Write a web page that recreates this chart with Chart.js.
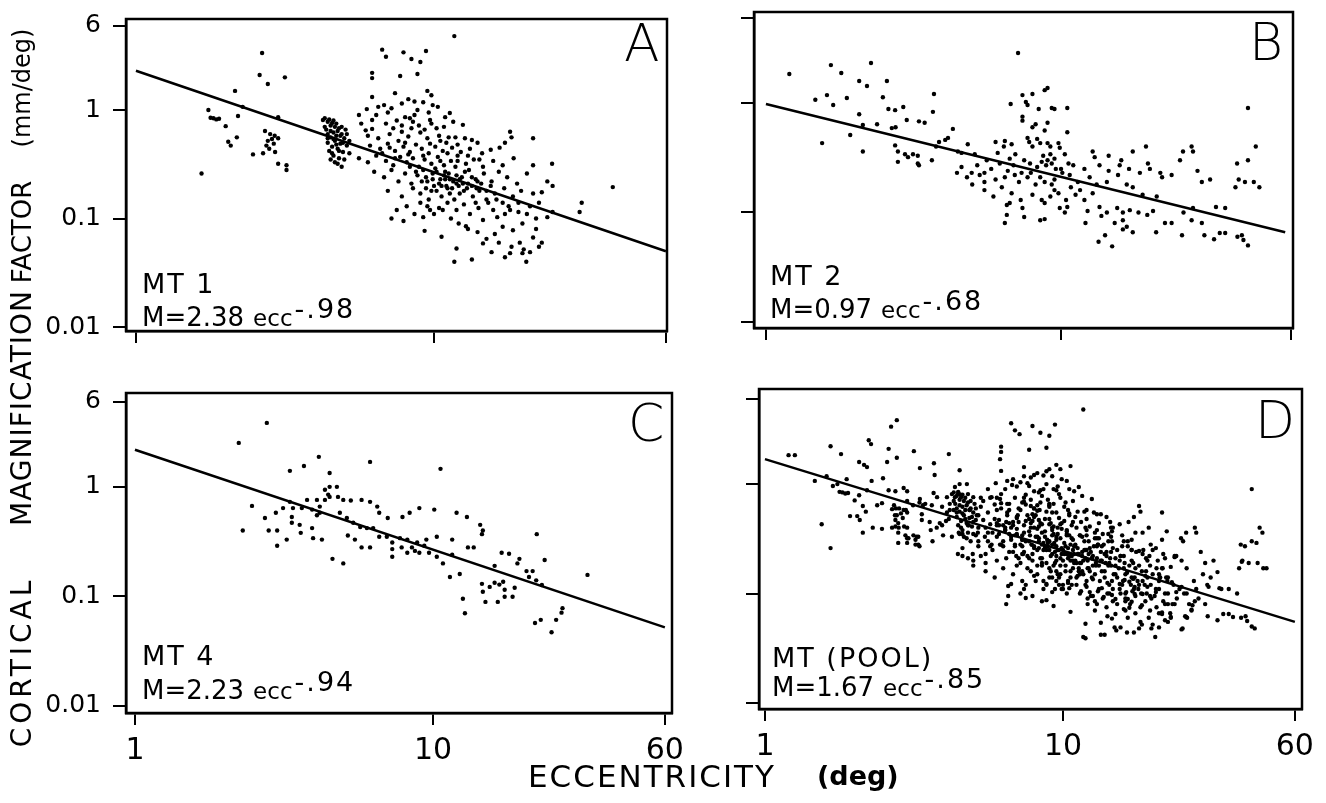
<!DOCTYPE html>
<html>
<head>
<meta charset="utf-8">
<script src="https://cdn.jsdelivr.net/npm/chart.js@4.4.0/dist/chart.umd.min.js"></script>
<style>
body { margin:0; background:#fff; width:1326px; height:803px; position:relative; overflow:hidden; font-family:'DejaVu Sans', sans-serif; color:#000; }
canvas { position:absolute; }
.lbl { position:absolute; line-height:1; white-space:nowrap; }
.letter { font-size:52px; font-weight:300; }
.mt { font-size:27px; letter-spacing:2px; }
.eq { font-size:26px; }
.ecc { font-size:23px; margin-left:9px; }
.sup { position:relative; top:-8px; margin-left:2px; font-size:27px; letter-spacing:2px; }
.xtitle { font-size:31px; letter-spacing:2px; }
.yword { position:absolute; left:22px; transform:translate(-50%,-50%) rotate(-90deg); line-height:1; white-space:nowrap; }
</style>
</head>
<body>
<canvas id="panelA"></canvas>
<canvas id="panelB"></canvas>
<canvas id="panelC"></canvas>
<canvas id="panelD"></canvas>

<div class="lbl letter" style="left:624px;top:17px">A</div>
<div class="lbl letter" style="left:1249px;top:16px">B</div>
<div class="lbl letter" style="left:628px;top:397px">C</div>
<div class="lbl letter" style="left:1255px;top:394px">D</div>

<div class="lbl mt" style="left:142px;top:270px">MT&nbsp;1</div>
<div class="lbl eq" style="left:142px;top:303px">M=2.38<span class="ecc">ecc</span><span class="sup">-.98</span></div>
<div class="lbl mt" style="left:770px;top:262px">MT&nbsp;2</div>
<div class="lbl eq" style="left:770px;top:295px">M=0.97<span class="ecc">ecc</span><span class="sup">-.68</span></div>
<div class="lbl mt" style="left:142px;top:642px">MT&nbsp;4</div>
<div class="lbl eq" style="left:142px;top:676px">M=2.23<span class="ecc">ecc</span><span class="sup">-.94</span></div>
<div class="lbl mt" style="left:772px;top:644px">MT&nbsp;(POOL)</div>
<div class="lbl eq" style="left:772px;top:673px">M=1.67<span class="ecc">ecc</span><span class="sup">-.85</span></div>

<div class="lbl xtitle" style="left:528px;top:761px">ECCENTRICITY</div>
<div class="lbl xtitle" style="left:817px;top:762px;font-weight:bold;letter-spacing:0;font-size:27px">(deg)</div>

<div class="yword" style="top:662px;font-size:28px;letter-spacing:4px">CORTICAL</div>
<div class="yword" style="top:408px;font-size:28px;letter-spacing:1px">MAGNIFICATION</div>
<div class="yword" style="top:232px;font-size:26px">FACTOR</div>
<div class="yword" style="top:88px;font-size:24px">(mm/deg)</div>

<script>
// axis ticks
const xTicks = [1, 10, 60];
const xTickLabels = ['1', '10', '60'];
const yTicks = [0.01, 0.1, 1, 6];
const yTickLabels = ['0.01', '0.1', '1', '6'];

// [eccentricity (deg), magnification (mm/deg)]

// MT 1 (panel A)
const mt1 = [
  [1.66,0.26],[2.65,3.35],[2.6,2.1],[3.16,2.0],[2.77,1.74],[2.15,1.5],[1.75,1.0],[1.78,0.85],
  [1.82,0.84],[1.86,0.82],[1.9,0.83],[2.2,0.88],[2.0,0.71],[2.18,0.56],[2.04,0.51],[2.08,0.47],
  [2.71,0.64],[2.82,0.6],[2.92,0.58],[2.86,0.54],[2.77,0.52],[3.0,0.55],[2.9,0.49],[2.74,0.47],
  [2.8,0.44],[2.47,0.39],[2.67,0.4],[2.93,0.41],[3.0,0.32],[3.2,0.31],[3.2,0.28],[3.0,0.86],
  [2.28,1.07],[4.24,0.81],
  [4.3,0.84],[4.4,0.78],[4.5,0.72],[4.35,0.66],[4.6,0.62],[4.5,0.56],[4.4,0.5],[4.7,0.75],
  [4.8,0.68],[4.65,0.52],[4.9,0.6],[4.55,0.46],[4.75,0.44],[5.0,0.55],[4.85,0.49],[4.45,0.42],
  [4.95,0.41],[5.1,0.47],[4.6,0.38],[4.8,0.36],[5.2,0.52],[4.7,0.58],[4.4,0.6],[5.05,0.66],
  [4.9,0.7],[4.6,0.8],[4.3,0.7],[5.2,0.4],[4.75,0.32],[5.0,0.35],[4.5,0.35],
  [4.45,0.82],[4.55,0.76],[4.65,0.7],[4.75,0.64],[4.85,0.58],[4.5,0.64],[4.6,0.54],[4.7,0.48],
  [4.8,0.42],[4.95,0.5],[4.4,0.55],[5.1,0.6],[4.55,0.4],[4.65,0.33],[4.9,0.3],
  [11.7,4.8],[6.7,3.6],[6.9,3.1],[7.9,3.4],[9.4,3.5],[8.4,2.95],[9.0,2.77],[6.2,2.2],
  [6.2,1.97],[7.7,2.06],[8.8,2.15],[7.4,1.43],[9.5,1.5],[9.8,1.37],[6.2,1.32],[8.2,1.26],
  [9.2,1.18],[6.5,1.07],[6.8,1.11],[5.95,1.02],[5.6,0.9],[7.2,1.04],[9.9,1.11],[10.3,1.07],
  [8.8,1.0],[8.6,0.9],[8.3,0.84],[8.0,0.86],[10.9,0.86],[11.3,0.94],[11.6,0.78],[12.5,0.73],
  [9.7,0.81],[10.2,0.68],[6.2,0.81],[5.9,0.65],[6.2,0.67],[7.3,0.68],[7.8,0.63],[8.4,0.68],
  [11.8,0.56],[11.2,0.56],[12.7,0.55],[13.4,0.53],[14,0.5],[18,0.63],[18.2,0.56],[17.3,0.5],
  [16.6,0.45],[21.5,0.55],[21.5,0.31],[24.9,0.32],[39.8,0.195],[24,0.22],[25,0.2],[21.5,0.17],
  [23,0.175],
  [6.1,0.47],[6.6,0.44],[7.0,0.49],[7.4,0.42],[7.9,0.46],[8.3,0.41],[8.7,0.48],[9.1,0.44],
  [9.6,0.4],[10.1,0.46],[10.7,0.42],[11.5,0.45],[12.3,0.41],[13.2,0.44],[14.5,0.4],[15.5,0.43],
  [5.6,0.36],[6.0,0.33],[6.4,0.38],[6.9,0.34],[7.3,0.31],[7.7,0.37],[8.1,0.33],[8.5,0.36],
  [8.9,0.3],[9.3,0.35],[9.8,0.32],[10.3,0.37],[10.8,0.31],[11.4,0.34],[12.0,0.38],[12.8,0.32],
  [13.6,0.35],[14.6,0.3],[15.8,0.34],[17.0,0.31],[18.5,0.36],
  [6.3,0.27],[6.8,0.24],[7.2,0.28],[7.6,0.22],[8.0,0.26],[8.4,0.21],[8.8,0.25],[9.2,0.28],
  [9.5,0.22],[9.9,0.26],[10.4,0.21],[10.9,0.27],[11.3,0.23],[11.9,0.25],[12.5,0.21],[13.1,0.28],
  [13.8,0.23],[14.7,0.26],[15.6,0.22],[16.5,0.27],[17.6,0.24],[19.0,0.21],[20.5,0.26],
  [7.0,0.18],[7.8,0.16],[8.5,0.19],[9.0,0.17],[9.6,0.15],[10.2,0.18],[10.6,0.16],[11.1,0.19],
  [11.7,0.15],[12.2,0.17],[12.9,0.19],[13.5,0.16],[14.2,0.18],[15.0,0.15],[16.0,0.17],[17.2,0.19],
  [18.4,0.16],[19.6,0.18],
  [8.1,0.13],[9.5,0.13],[9.7,0.12],[9.2,0.103],[11.1,0.14],[11.9,0.12],[13.2,0.11],[16.3,0.103],
  [10.4,0.125],[12.6,0.135],[14.1,0.125],[15.2,0.14],[17.8,0.13],[19.2,0.115],[7.5,0.12],[25,0.115],
  [24,0.103],[30.8,0.115],[31.3,0.14],[21,0.13],[22.5,0.14],
  [7.2,0.1],[7.9,0.095],[9.3,0.077],[10.6,0.068],[11.9,0.053],[11.7,0.04],[13.4,0.042],[15.6,0.049],
  [17.3,0.044],[18,0.048],[20.4,0.04],[19.8,0.048],[21,0.049],[14.6,0.059],[19.4,0.06],[21.5,0.067],
  [22,0.08],[14.6,0.097],[17,0.084],[18.4,0.078],[19.8,0.09],[12.8,0.085],[16,0.072],[23,0.06],
  [9.4,0.24],[10.0,0.2],[10.5,0.23],[11.0,0.2],[11.6,0.22],[12.1,0.2],[10.8,0.25],[9.8,0.18],
  [12.4,0.24],[11.3,0.17],[10.1,0.29],[11.8,0.3],[12.7,0.27],[13.4,0.2],[14.0,0.22],
  [6.5,0.55],[7.1,0.6],[7.6,0.52],[8.2,0.57],[9.0,0.62],[9.5,0.55],[10.4,0.58],[6.9,0.75],
  [7.5,0.8],[8.9,0.72],[9.3,0.66],[10.5,0.52],[6.0,0.58],[5.7,0.75],
  [8.3,0.3],[8.7,0.27],[9.1,0.22],[9.4,0.19],[9.9,0.23],[10.2,0.27],[10.6,0.2],[10.9,0.23],
  [11.2,0.26],[11.5,0.19],[11.9,0.21],[12.2,0.23],[12.6,0.18],[13.0,0.21],[13.4,0.24],[13.9,0.19],
  [14.4,0.21],[15.0,0.18],[15.5,0.2],[16.2,0.15],[17.0,0.14],[18.0,0.12],[19.2,0.14],[20.5,0.11],
  [22.0,0.1],[10.7,0.12],[11.4,0.1],[12.1,0.09],[13.0,0.08],[14.0,0.075],[15.0,0.065],[16.5,0.06],
  [18.2,0.055],[20.0,0.052],[22.5,0.055],[9.0,0.14],[10.0,0.11],[8.6,0.11],[13.8,0.14],[15.8,0.12],
  [17.3,0.11],[12.0,0.34],[13.0,0.38],[14.2,0.35],[7.4,0.36],[8.2,0.39],[9.2,0.38],[10.5,0.34],
  [11.1,0.4],[6.7,0.4],[7.1,0.45],[8.0,0.5],[9.7,0.49],[11.0,0.5],[12.0,0.48],[7.8,0.72],
  [8.5,0.78],[9.8,0.75],[10.8,0.7],[6.4,0.9],[7.0,0.95],[7.8,1.15],[8.6,1.2],[9.6,0.95]
];

// MT 2 (panel B)
const mt2 = [
  [1.2,1.84],[1.66,2.22],[1.8,1.88],[2.27,2.32],[2.07,1.59],[2.2,1.43],[2.57,1.59],[3.71,1.21],
  [1.47,1.07],[1.61,1.18],[1.69,0.96],[1.88,1.11],[2.49,1.13],[2.6,0.88],[2.74,0.86],[2.92,0.92],
  [3.68,0.83],[2.07,0.79],[3.0,0.7],[3.3,0.68],[3.45,0.66],[2.13,0.63],[2.38,0.64],[2.67,0.59],
  [2.75,0.6],[4.3,0.58],[1.55,0.43],[1.93,0.51],[2.13,0.36],[2.74,0.41],[2.8,0.36],[2.96,0.34],
  [3.03,0.32],[3.15,0.34],[3.27,0.33],[2.8,0.29],[3.3,0.27],[3.27,0.28],[3.65,0.3],[3.77,0.4],
  [3.86,0.44],[4.05,0.46],[4.14,0.48],[4.47,0.36],[4.6,0.35],[4.83,0.42],[5.1,0.34],[4.44,0.23],
  [4.6,0.26],[4.98,0.23],[5.3,0.22],[5.5,0.23],[5.5,0.16],
  [7.15,2.86],[7.4,1.18],[8.0,1.21],[8.8,1.31],[9.0,1.37],[6.75,0.98],[7.6,1.02],[7.7,0.96],
  [8.4,0.88],[9.3,0.9],[9.5,0.88],[10.5,0.9],[7.4,0.75],[7.4,0.69],[8.2,0.64],[8.0,0.6],
  [9.0,0.66],[8.8,0.56],[10.5,0.54],[6.0,0.44],[6.45,0.45],[6.4,0.4],[6.8,0.42],[7.7,0.48],
  [7.8,0.44],[8.3,0.47],[8.0,0.4],[8.5,0.43],[9.0,0.43],[9.2,0.4],[9.8,0.43],[9.9,0.39],
  [8.7,0.33],[9.0,0.3],[9.3,0.28],[9.5,0.31],[8.9,0.27],[9.2,0.34],[9.6,0.25],[8.6,0.29],
  [10.3,0.34],[10.6,0.28],[7.0,0.34],[6.7,0.31],[6.45,0.21],[6.97,0.22],[7.35,0.23],[7.85,0.28],
  [8.3,0.26],[7.7,0.21],[8.5,0.21],[8.8,0.19],[9.3,0.18],[9.5,0.16],[10.1,0.23],[10.7,0.22],
  [11.4,0.19],[12.5,0.21],[13.2,0.18],[14.3,0.19],[15.6,0.22],[16.7,0.18],[13.0,0.32],[17.5,0.36],
  [19.4,0.4],[19.7,0.28],[21.7,0.23],[22,0.21],[23.7,0.22],[25.3,0.3],[25.9,0.36],[27.7,0.4],
  [28,0.36],[17.5,0.17],[18.9,0.145],[21.1,0.14],[29,0.24],[30,0.19],[32,0.2],[39.5,0.28],
  [43,0.3],[45.7,0.4],[43,0.9],[39,0.17],[40,0.2],[42,0.19],[45,0.19],[47,0.17],
  [6.55,0.117],[6.7,0.122],[7.4,0.11],[6.55,0.095],[6.45,0.08],[7.5,0.091],[8.5,0.085],[8.8,0.087],
  [8.8,0.122],[9.9,0.11],[10.5,0.112],[10.3,0.1],[12.1,0.08],[12.3,0.103],[13.5,0.112],[13.7,0.093],
  [14.3,0.1],[15.5,0.11],[16.2,0.1],[17.1,0.105],[18.3,0.1],[19.6,0.095],[20.5,0.103],[15.2,0.08],
  [16.2,0.085],[16.7,0.074],[17.5,0.066],[16.2,0.07],[13.4,0.054],[14.1,0.062],[14.9,0.049],[21,0.066],
  [22.5,0.08],[23.7,0.08],[26,0.1],[28,0.11],[27.7,0.085],[30,0.08],[25.7,0.062],[30.6,0.062],
  [33,0.057],[34.5,0.065],[36,0.065],[33.5,0.112],[36,0.11],[39.6,0.06],[41.5,0.056],[43,0.05],
  [41,0.062],
  [5.6,0.3],[5.8,0.25],[6.0,0.2],[6.2,0.28],[5.5,0.19],[6.3,0.17],[5.9,0.14],[6.6,0.24],
  [6.9,0.27],[7.2,0.19],[7.5,0.3],[7.9,0.23],[8.2,0.18],[5.2,0.27],[5.0,0.18],[4.8,0.21],
  [6.1,0.35],[6.8,0.15],[7.3,0.13],[8.0,0.145],[8.6,0.13],[9.2,0.14],[9.8,0.15],[10.4,0.13],
  [11.2,0.145],[12.0,0.13],[11.6,0.16],[12.8,0.15],[10.8,0.17],[9.5,0.2],[10.0,0.25],[11.0,0.27],
  [12.0,0.25],[13.5,0.27],[14.5,0.24],[15.8,0.27],[17,0.25],[18.5,0.23],[20,0.25],[12.8,0.36],
  [14.5,0.33],[16,0.3]
];

// MT 4 (panel C)
const mt4 = [
  [2.77,3.84],[2.23,2.52],[4.14,1.88],[3.69,1.55],[3.31,1.4],[2.47,0.67],[2.3,0.4],[2.73,0.52],
  [2.81,0.4],[3.0,0.4],[2.97,0.58],[3.14,0.64],[3.31,0.73],[3.39,0.64],[3.0,0.29],[3.23,0.33],
  [3.36,0.53],[3.36,0.47],[3.57,0.45],[3.6,0.38],[3.93,0.42],[3.96,0.34],[4.24,0.33],[3.63,0.64],
  [3.78,0.76],[3.93,0.62],[4.08,0.76],[4.17,0.66],[4.08,0.55],[4.17,0.58],[4.34,0.94],[4.5,1.0],
  [4.34,0.76],[4.45,0.85],
  [6.15,1.69],[10.6,1.46],[4.5,1.34],[4.76,1.0],[4.5,0.81],[4.8,0.81],[5.0,0.76],[5.3,0.75],
  [5.76,0.76],[6.15,0.73],[6.5,0.66],[4.87,0.58],[5.14,0.52],[5.4,0.47],[5.7,0.43],[6.0,0.42],
  [6.3,0.42],[5.18,0.36],[5.47,0.33],[5.76,0.28],[6.15,0.28],[6.6,0.35],[7.0,0.35],[7.3,0.31],
  [7.3,0.27],[7.3,0.23],[5.0,0.2],[4.6,0.22],[6.6,0.58],[7.05,0.52],[7.9,0.53],[8.35,0.58],
  [9.0,0.64],[10.1,0.62],[7.75,0.34],[8.2,0.33],[8.85,0.31],[8.5,0.28],[7.85,0.28],[8.2,0.25],
  [8.7,0.26],[9.0,0.25],[9.5,0.33],[9.35,0.29],[9.7,0.25],[10.3,0.23],[10.8,0.2],[10.3,0.35],
  [11.6,0.33],[11.6,0.24],[12.0,0.58],[13.0,0.53],[14.4,0.45],[14.7,0.4],[14.6,0.37],[13.1,0.28],
  [13.7,0.28],[11.4,0.15],[12.3,0.16],[12.6,0.095],[12.8,0.07],[14.6,0.13],[14.7,0.11],[15,0.089],
  [15.5,0.122],[16.1,0.133],[16.7,0.128],[17.2,0.136],[17.4,0.115],[17.4,0.099],[16.5,0.089],[18.5,0.099],
  [18.8,0.12],[16.1,0.19],[17,0.25],[18,0.245],[19.5,0.22],[20.6,0.17],[21,0.15],[22.2,0.14],
  [23.2,0.127],[19.2,0.2],[21.6,0.17],[22.3,0.37],[23.7,0.215],[22,0.057],[23,0.061],[25,0.047],
  [25.9,0.061],[27.2,0.078],[27,0.071],[33,0.157]
];

// the remaining case (not shown alone)
const mt3 = [
  [1.26,1.84],[5.3,0.62],[5.6,0.55],[5.9,0.48],[6.2,0.6],[6.5,0.52],[6.8,0.45],[5.5,0.4],
  [5.8,0.36],[6.1,0.42],[6.4,0.38],[6.7,0.33],[7.0,0.5],[5.2,0.3],[5.7,0.27],[6.3,0.3],
  [6.9,0.28],[5.4,0.7],[6.0,0.75],[6.6,0.66],[5.0,0.45],
  [7.2,0.58],[7.5,0.46],[7.8,0.4],[8.1,0.52],[8.4,0.44],[8.7,0.37],[9.0,0.48],[9.3,0.41],
  [9.6,0.35],[9.9,0.44],[7.3,0.34],[7.7,0.3],[8.0,0.27],[8.3,0.32],[8.6,0.25],[8.9,0.29],
  [9.2,0.23],[9.5,0.27],[9.8,0.21],[7.4,0.24],[7.9,0.2],[8.5,0.18],[9.1,0.16],[9.7,0.14],
  [8.2,0.15],[7.6,0.17],[7.1,0.21],[8.8,0.12],[9.4,0.11],[10.0,0.12],[7.0,0.39],[8.0,0.6],
  [9.2,0.55],[7.5,0.65],
  [10.3,0.38],[10.7,0.32],[11.0,0.28],[11.4,0.34],[11.8,0.25],[12.2,0.3],[12.6,0.22],[13.0,0.27],
  [13.5,0.2],[14.0,0.24],[14.5,0.18],[15.0,0.21],[10.5,0.22],[10.9,0.19],[11.3,0.16],[11.7,0.2],
  [12.1,0.17],[12.5,0.14],[12.9,0.18],[13.3,0.13],[13.8,0.16],[14.3,0.12],[14.8,0.15],[10.2,0.16],
  [10.6,0.14],[11.1,0.12],[11.5,0.105],[12.0,0.115],[12.4,0.095],[13.1,0.105],[13.6,0.09],[14.1,0.1],
  [14.7,0.085],[10.4,0.26],[11.2,0.23],[12.3,0.26],[13.2,0.32],[14.2,0.3],[10.8,0.45],[11.9,0.4],
  [15.4,0.17],[15.9,0.13],[16.4,0.155],[16.9,0.12],[17.4,0.14],[17.9,0.11],[18.5,0.13],[19.1,0.1],
  [19.7,0.12],[20.3,0.095],[21.0,0.11],[21.7,0.085],[22.5,0.1],[23.3,0.08],[24.1,0.09],[15.6,0.1],
  [16.2,0.09],[16.8,0.08],[17.5,0.095],[18.2,0.075],[18.9,0.085],[19.6,0.07],[20.6,0.075],[21.5,0.065],
  [15.2,0.25],[16.0,0.22],[17.0,0.2],[18.0,0.18],[19.0,0.16],[20.0,0.15],[21.2,0.14],[22.4,0.13],
  [23.5,0.12],[24.6,0.11],[16.5,0.3],[18.6,0.25],[20.8,0.2],
  [25.5,0.1],[26.5,0.08],[27.5,0.13],[28.5,0.09],[29.5,0.15],[26,0.17],[27,0.07],[30.5,0.12],
  [11.9,0.039],[13.8,0.042],[15.1,0.046],[16.4,0.044],[18.4,0.052],[22.9,0.066],[26.1,0.06],[25.2,0.048],
  [46.7,0.36],[44.6,0.29],[40.8,0.27],[48.2,0.17],[34,0.11],[38.4,0.1],[44,0.048],[37.2,0.061]
];

// pooled data = all cases
const mtPool = mt1.concat(mt2, mt4, mt3);

// fitted power functions, end points of each line [ecc, M]
const fitMT1 = [[1, 2.3], [60, 0.05]];
const fitMT2 = [[1, 0.98], [57.5, 0.066]];
const fitMT4 = [[1, 2.18], [60, 0.052]];
const fitPool = [[1, 1.69], [60, 0.055]];

// box around each plot area
const framePlugin = {
  id: 'frame',
  afterDraw(chart) {
    const a = chart.chartArea, ctx = chart.ctx;
    ctx.save();
    ctx.strokeStyle = '#000';
    ctx.lineWidth = 2.5;
    ctx.strokeRect(a.left, a.top, a.right - a.left, a.bottom - a.top);
    ctx.restore();
  }
};

function toXY(list) {
  return list.map(p => ({ x: p[0], y: p[1] }));
}

function makePanel(id, points, fit, lay) {
  const canvas = document.getElementById(id);
  canvas.width = lay.w;
  canvas.height = lay.h;
  canvas.style.left = lay.x + 'px';
  canvas.style.top = lay.y + 'px';

  new Chart(canvas, {
    type: 'scatter',
    data: {
      datasets: [
        { data: toXY(points), pointRadius: 2.2, pointBackgroundColor: '#000', pointBorderWidth: 0 },
        { data: toXY(fit), showLine: true, borderColor: '#000', borderWidth: 2.5, pointRadius: 0 }
      ]
    },
    options: {
      responsive: false,
      animation: false,
      devicePixelRatio: 1,
      layout: { padding: { top: lay.pt, right: lay.pr, left: 0, bottom: 0 } },
      plugins: { legend: { display: false }, tooltip: { enabled: false } },
      scales: {
        x: {
          type: 'logarithmic',
          min: lay.xMin, max: lay.xMax,
          afterFit: s => { s.height = lay.xh; s.paddingLeft = 0; s.paddingRight = 0; },
          afterBuildTicks: s => { s.ticks = xTicks.map(v => ({ value: v })); },
          ticks: {
            autoSkip: false, maxRotation: 0, padding: 8, color: '#000',
            font: { family: 'DejaVu Sans', size: 30 },
            callback: v => lay.xLabels ? xTickLabels[xTicks.indexOf(v)] : ''
          },
          grid: { drawOnChartArea: false, drawTicks: true, tickLength: 12, color: '#000', lineWidth: 2 },
          border: { display: true, color: '#000', width: 2.5 }
        },
        y: {
          type: 'logarithmic',
          min: lay.yMin, max: lay.yMax,
          afterFit: s => { s.width = lay.yw; s.paddingTop = 0; s.paddingBottom = 0; },
          afterBuildTicks: s => { s.ticks = yTicks.map(v => ({ value: v })); },
          ticks: {
            autoSkip: false, padding: 12, color: '#000',
            font: { family: 'DejaVu Sans', size: 25 },
            callback: v => lay.yLabels ? yTickLabels[yTicks.indexOf(v)] : ''
          },
          grid: { drawOnChartArea: false, drawTicks: true, tickLength: 13, color: '#000', lineWidth: 2 },
          border: { display: true, color: '#000', width: 2.5 }
        }
      }
    },
    plugins: [framePlugin]
  });
}

makePanel('panelA', mt1, fitMT1, {
  x: 0, y: 0, w: 687, h: 351, yw: 126, pt: 19, pr: 20, xh: 20,
  xMin: 0.926, xMax: 60.5, yMin: 0.0092, yMax: 6.9, xLabels: false, yLabels: true
});
makePanel('panelB', mt2, fitMT2, {
  x: 714, y: 0, w: 599, h: 348, yw: 40, pt: 12, pr: 20, xh: 20,
  xMin: 0.911, xMax: 61.1, yMin: 0.0088, yMax: 6.78, xLabels: false, yLabels: false
});
makePanel('panelC', mt4, fitMT4, {
  x: 0, y: 360, w: 697, h: 423, yw: 126, pt: 33, pr: 25, xh: 70,
  xMin: 0.933, xMax: 63.4, yMin: 0.0086, yMax: 7.2, xLabels: true, yLabels: true
});
makePanel('panelD', mtPool, fitPool, {
  x: 719, y: 360, w: 598, h: 419, yw: 40, pt: 29, pr: 15, xh: 70,
  xMin: 0.955, xMax: 63.4, yMin: 0.0088, yMax: 7.4, xLabels: true, yLabels: false
});
</script>
</body>
</html>
